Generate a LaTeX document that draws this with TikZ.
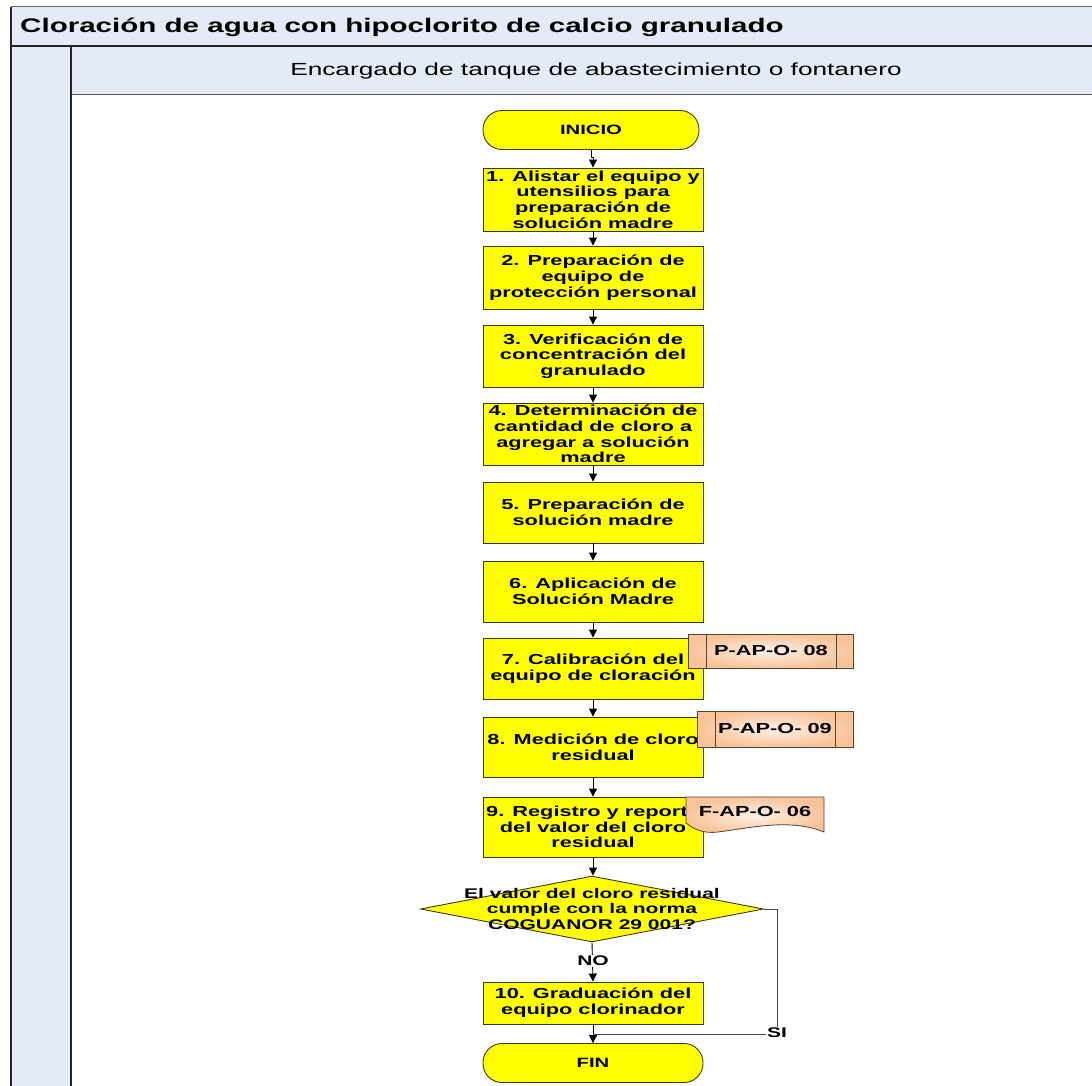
\documentclass[tikz,border=0pt]{standalone}
\usepackage{fontspec}
\setmainfont{Liberation Sans}[FakeStretch=1.5]
\usetikzlibrary{arrows.meta,shapes.geometric}
\definecolor{lanefill}{HTML}{E5EBF6}
\definecolor{stepyellow}{HTML}{FFFF00}
\definecolor{stepline}{HTML}{3A3A1A}
\definecolor{tagouter}{HTML}{F7C49A}
\definecolor{taginner}{HTML}{FEF1E6}
\definecolor{tagline}{HTML}{5A4030}
\tikzset{
  stepbox/.style={draw=stepline, line width=0.9pt, fill=stepyellow, minimum width=220pt,
    inner sep=0pt, align=center, font=\fontsize{14.5}{15.7}\selectfont\bfseries},
  termbox/.style={draw=stepline, line width=0.9pt, fill=stepyellow, minimum height=39pt,
    rounded corners=19pt, inner sep=0pt, font=\fontsize{13.5}{15}\selectfont\bfseries},
  flow/.style={draw=black, line width=0.9pt, -{Triangle[length=8pt,width=8pt]}},
  tagtext/.style={inner sep=0pt, font=\fontsize{14.5}{16}\selectfont\bfseries},
  branch/.style={inner sep=1pt, fill=white, font=\fontsize{14}{16}\selectfont\bfseries},
}
\begin{document}
\begin{tikzpicture}[x=1pt,y=-1pt]
\useasboundingbox (0,0) rectangle (1092,1086);
% swimlane frame
\fill[lanefill] (11,7) rectangle (1092,46);
\fill[lanefill] (11,46) rectangle (71,1086);
\fill[lanefill] (71,46) rectangle (1092,95);
\draw[gray!80!black, line width=1pt] (11,7) -- (1092,7);
\draw[black!85, line width=1.6pt] (11,46) -- (1092,46);
\draw[gray!70!black, line width=1pt] (71,95) -- (1092,95);
\draw[black!85, line width=1.6pt] (11,7) -- (11,1086);
\draw[black!85, line width=1.2pt] (71,46) -- (71,1086);
\node[anchor=west, inner sep=0pt, font=\fontsize{19.7}{22}\selectfont\bfseries] (title) at (20,27) {Cloración de agua con hipoclorito de calcio granulado};
\node[inner sep=0pt, font=\fontsize{17.5}{20}\selectfont] (lane) at (596,71) {Encargado de tanque de abastecimiento o fontanero};

% process steps
\node[termbox, minimum width=216pt] (inicio) at (591,130) {INICIO};
\node[stepbox, minimum height=63pt] (s1) at (593,199.5) {1. Alistar el equipo y\\utensilios para\\preparación de\\solución madre};
\node[stepbox, minimum height=63pt] (s2) at (593,277.5) {2. Preparación de\\equipo de\\protección personal};
\node[stepbox, minimum height=62pt] (s3) at (593,356) {3. Verificación de\\concentración del\\granulado};
\node[stepbox, minimum height=62pt] (s4) at (593,434) {4. Determinación de\\cantidad de cloro a\\agregar a solución\\madre};
\node[stepbox, minimum height=61pt] (s5) at (593,512.5) {5. Preparación de\\solución madre};
\node[stepbox, minimum height=61pt] (s6) at (593,591.5) {6. Aplicación de\\Solución Madre};
\node[stepbox, minimum height=61pt] (s7) at (593,668.5) {7. Calibración del\\equipo de cloración};
\node[stepbox, minimum height=60pt] (s8) at (593,747) {8. Medición de cloro\\residual};
\node[stepbox, minimum height=60pt] (s9) at (593,827) {9. Registro y reporte\\del valor del cloro\\residual};

% decision
\node[diamond, draw=stepline, line width=0.9pt, fill=stepyellow, inner sep=0pt,
      minimum width=343pt, minimum height=66pt] (dec) at (592,909) {};
\node[inner sep=0pt, align=center, font=\fontsize{14}{15.5}\selectfont\bfseries] (dectext) at (592,908.5)
  {El valor del cloro residual\\cumple con la norma\\COGUANOR 29 001?};

\node[stepbox, minimum height=42pt] (s10) at (593,1003) {10. Graduación del\\equipo clorinador};
\node[termbox, minimum width=220pt] (fin) at (593,1063) {FIN};

% reference tags: predefined processes
\shade[inner color=taginner, outer color=tagouter] (688,634) rectangle (853,668);
\draw[tagline, line width=0.8pt] (688,634) rectangle (853,668) (706,634) -- (706,668) (836,634) -- (836,668);
\node[tagtext] (p08) at (771,651) {P-AP-O- 08};
\shade[inner color=taginner, outer color=tagouter] (697,711) rectangle (853,747);
\draw[tagline, line width=0.8pt] (697,711) rectangle (853,747) (715,711) -- (715,747) (835,711) -- (835,747);
\node[tagtext] (p09) at (775,729) {P-AP-O- 09};
% reference tag: document
\shade[inner color=taginner, outer color=tagouter] (686,797) -- (824,797) -- (824,832)
  .. controls (790,818) and (750,828) .. (718,832) .. controls (702,834) and (692,828) .. (686,823) -- cycle;
\draw[tagline, line width=0.8pt] (686,797) -- (824,797) -- (824,832)
  .. controls (790,818) and (750,828) .. (718,832) .. controls (702,834) and (692,828) .. (686,823) -- cycle;
\node[tagtext] (f06) at (755,812) {F-AP-O- 06};

% connectors
\draw[flow] (inicio.south) -- ++(0,8) -| (s1.north);
\draw[flow] (s1) -- (s2);
\draw[flow] (s2) -- (s3);
\draw[flow] (s3) -- (s4);
\draw[flow] (s4) -- (s5);
\draw[flow] (s5) -- (s6);
\draw[flow] (s6) -- (s7);
\draw[flow] (s7) -- (s8);
\draw[flow] (s8) -- (s9);
\draw[flow] (s9.south) -- (s9.south |- dec.north);
\draw[flow] (s10.south) -- (fin.north);
\coordinate (merge) at (593,1034);
\coordinate (sicorner) at (777,1034);
\draw[line width=0.9pt, gray!60!black] (dec.east) -| (sicorner) -- (merge);
\node[branch] (si) at (777,1033) {SI};
\draw[flow] (dec.south) -- (s10.north);
\node[branch] (no) at (593,961) {NO};
\end{tikzpicture}
\end{document}
